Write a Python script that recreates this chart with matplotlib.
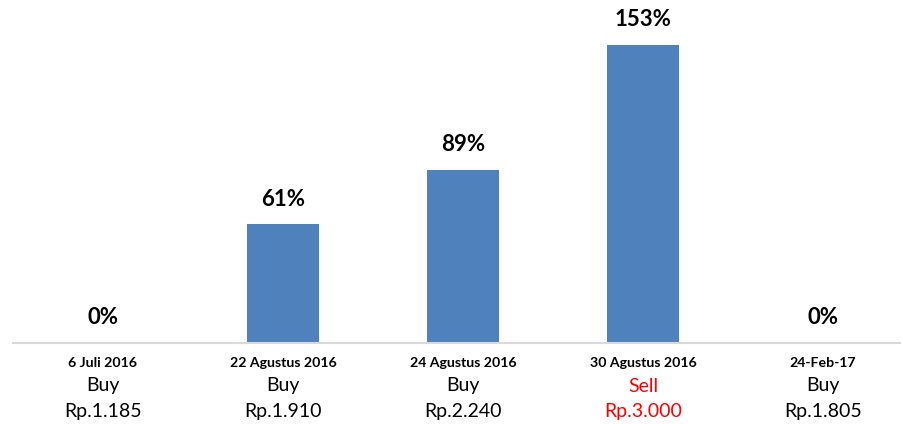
import matplotlib.pyplot as plt
from matplotlib.transforms import blended_transform_factory

dates = ['6 Juli 2016', '22 Agustus 2016', '24 Agustus 2016', '30 Agustus 2016', '24-Feb-17']
actions = ['Buy', 'Buy', 'Buy', 'Sell', 'Buy']
prices = ['Rp.1.185', 'Rp.1.910', 'Rp.2.240', 'Rp.3.000', 'Rp.1.805']
returns = [0, 61, 89, 153, 0]

plt.rcParams['font.family'] = ['Lato', 'DejaVu Sans']

W, H = 904, 424
fig = plt.figure(figsize=(W / 100, H / 100), dpi=100)
left, right, base, top = 13, 900, 343, 12
ax = fig.add_axes([left / W, (H - base) / H, (right - left) / W, (base - top) / H])

x = list(range(len(dates)))
ax.bar(x, returns, width=0.4, color='#4f81bd', zorder=2)
ax.set_xlim(-0.5, (right - left) / 180 - 0.5)
ax.set_ylim(0, (base - top) / 1.948)

for i, v in enumerate(returns):
    ax.annotate(f'{v}%', (i, v), xytext=(0, 18), textcoords='offset points',
                ha='center', va='center', fontsize=16, fontweight='bold', color='black')

for s in ['top', 'right', 'left']:
    ax.spines[s].set_visible(False)
ax.spines['bottom'].set_color('#d9d9d9')
ax.spines['bottom'].set_linewidth(1.5)
ax.set_yticks([])
ax.set_xticks([])

tr = blended_transform_factory(ax.transData, fig.transFigure)
for i in range(len(dates)):
    c = 'red' if actions[i] == 'Sell' else 'black'
    ax.text(i, 1 - 363 / H, dates[i], transform=tr, ha='center', va='center',
            fontsize=10.2, fontweight='bold', color='black')
    ax.text(i, 1 - 386 / H, actions[i], transform=tr, ha='center', va='center',
            fontsize=14, color=c)
    ax.text(i, 1 - 411 / H, prices[i], transform=tr, ha='center', va='center',
            fontsize=14, color=c)

fig.savefig('out.png', dpi=100)
